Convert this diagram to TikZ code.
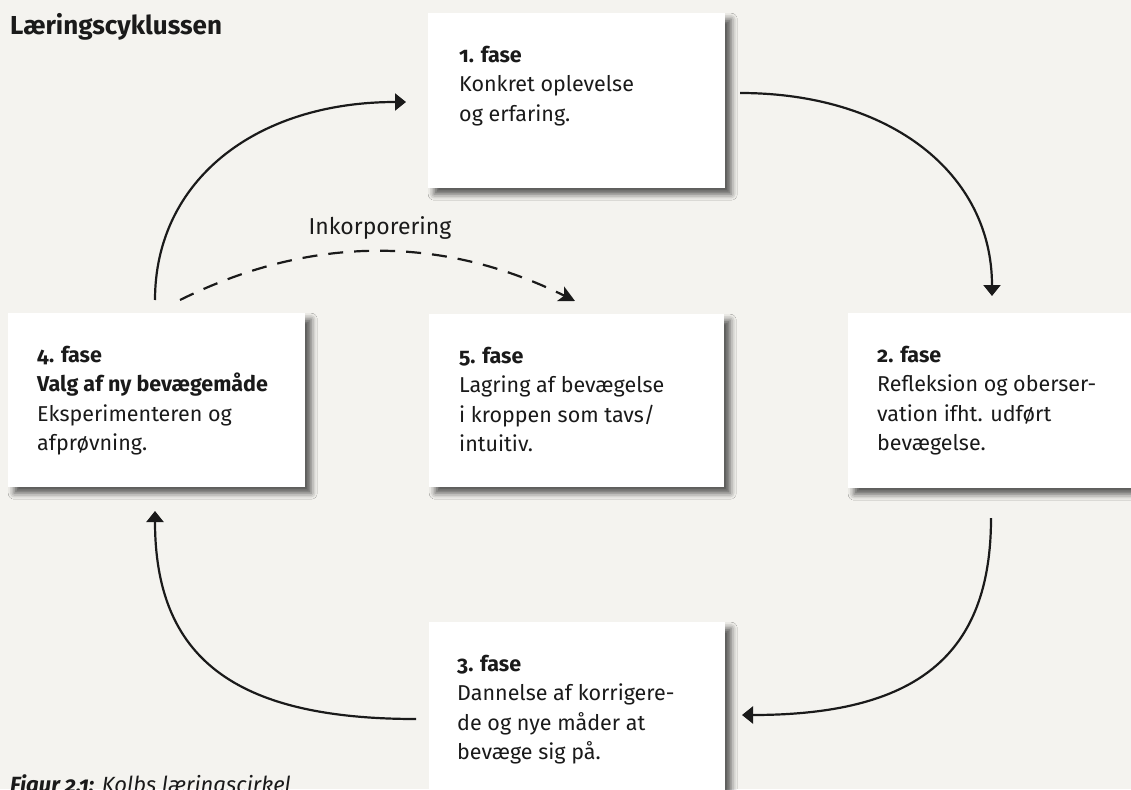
\documentclass[tikz,border=0pt]{standalone}
\usepackage{fontspec}
\setmainfont{Fira Sans}[Numbers=OldStyle]
\usetikzlibrary{arrows.meta,shadows.blur,calc}
\definecolor{paper}{HTML}{F4F3EF}
\definecolor{ink}{HTML}{1A1A1A}

\begin{document}
\begin{tikzpicture}[x=1pt,y=-1pt,
  card/.style={fill=white, draw=none, inner sep=0pt, anchor=north west,
    blur shadow={shadow xshift=6pt, shadow yshift=-6pt,
                 shadow blur radius=6pt, shadow opacity=65}},
  cardtext/.style={anchor=north west, align=left, inner sep=0pt,
    font=\fontsize{21.5}{29.5}\selectfont, text=ink},
  flow/.style={line width=2.2pt, draw=ink,
    -{Triangle[length=11pt,width=17pt]}},
  loopback/.style={line width=2.2pt, draw=ink, dash pattern=on 15pt off 11pt,
    -{Stealth[length=16pt,width=16pt,inset=4pt]}},
]
\useasboundingbox (0,0) rectangle (1131,789);
\clip (0,0) rectangle (1131,789);
\fill[paper] (0,0) rectangle (1131,789);

% the five phase cards
\node[card, minimum width=297pt, minimum height=175pt] (b1) at (428,13) {};
\node[card, minimum width=300pt, minimum height=175pt] (b2) at (848,313) {};
\node[card, minimum width=296pt, minimum height=190pt] (b3) at (429,622) {};
\node[card, minimum width=297pt, minimum height=174pt] (b4) at (8,313) {};
\node[card, minimum width=295pt, minimum height=173pt] (b5) at (429,314) {};

% card texts (first baseline 48pt below the top of each card)
\newcommand\firstline{\rule{0pt}{15.5pt}}
\node[cardtext] (t1) at ($(b1.north west)+(31,32.5)$)
  {\firstline\textbf{1. fase}\\Konkret oplevelse\\og erfaring.};
\node[cardtext] (t2) at ($(b2.north west)+(29,32.5)$)
  {\firstline\textbf{2. fase}\\Refleksion og oberser-\\vation ifht. udført\\bevægelse.};
\node[cardtext] (t3) at ($(b3.north west)+(28,32.5)$)
  {\firstline\textbf{3. fase}\\Dannelse af korrigere-\\de og nye måder at\\bevæge sig på.};
\node[cardtext] (t4) at ($(b4.north west)+(29,32.5)$)
  {\firstline\textbf{4. fase}\\\textbf{Valg af ny bevægemåde}\\Eksperimenteren og\\afprøvning.};
\node[cardtext] (t5) at ($(b5.north west)+(30,32.5)$)
  {\firstline\textbf{5. fase}\\Lagring af bevægelse\\i kroppen som tavs/\\intuitiv.};

% title and caption
\node[anchor=base west, inner sep=0pt, text=ink,
      font=\fontsize{26}{30}\selectfont\bfseries] (title) at (10,35)
  {Læringscyklussen};
\node[anchor=base west, inner sep=0pt, text=ink,
      font=\fontsize{22}{26}\selectfont\itshape] (caption) at (10,792)
  {\textbf{Figur 2.1:} Kolbs læringscirkel};

% ends of the cycle arrows
\coordinate (s41) at (155,300);  \coordinate (e41) at (406,102);
\coordinate (s12) at (740,93);   \coordinate (e12) at (992,296);
\coordinate (s23) at (991,518);  \coordinate (e23) at (742,715);
\coordinate (s34) at (416,719);  \coordinate (e34) at (155,511);
\coordinate (s45) at (180,300);  \coordinate (e45) at (575,301);

\draw[flow] (s41) .. controls (155,181) and (255,102) .. (e41);
\draw[flow] (s12) .. controls (891,93) and (992,174) .. (e12);
\draw[flow] (s23) .. controls (991,656) and (916,715) .. (e23);
\draw[flow] (s34) .. controls (233,719) and (155,657) .. (e34);

\draw[loopback] (s45) .. controls (311,235) and (442,235) .. (e45);
\node[anchor=base, inner sep=0pt, text=ink, font=\fontsize{23}{29}\selectfont]
  (inc) at (380,234) {Inkorporering};
\end{tikzpicture}
\end{document}
